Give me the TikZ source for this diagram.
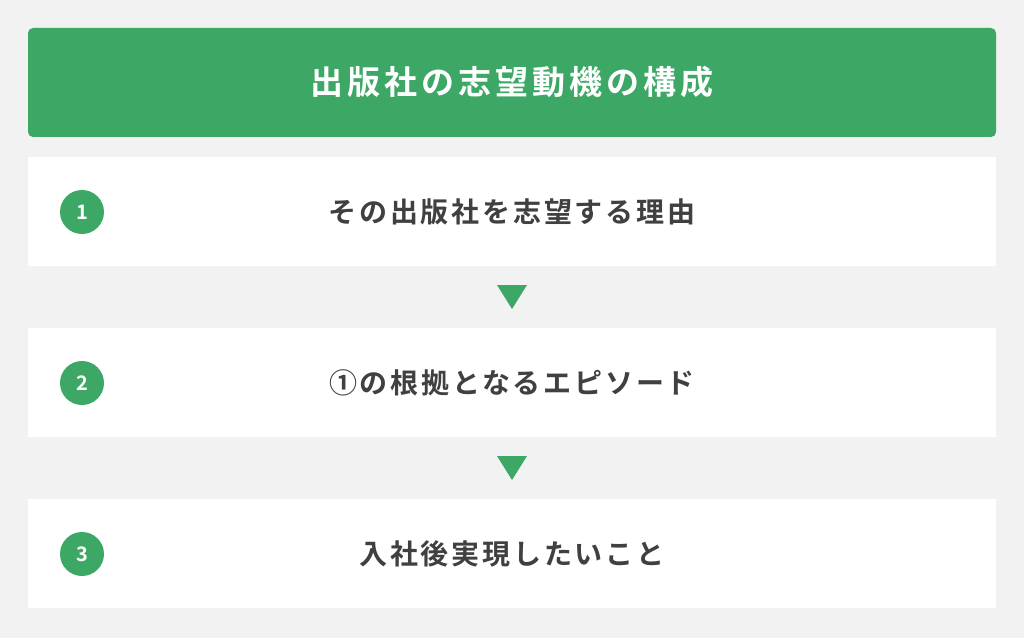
\documentclass[tikz,border=0pt]{standalone}
\usepackage{fontspec}
\newfontfamily\jpfont{Noto Sans CJK JP}[BoldFont={Noto Sans CJK JP Bold}]
\definecolor{verde}{HTML}{3DA866}
\definecolor{fondo}{HTML}{F2F2F2}
\definecolor{texto}{HTML}{404040}
\tikzset{
	caja/.style={fill=white, minimum width=968pt, minimum height=109pt, inner sep=0pt},
	numero/.style={circle, fill=verde, minimum size=44pt, inner sep=0pt, text=white, font=\jpfont\bfseries\fontsize{20pt}{20pt}\selectfont},
	rotulo/.style={text=texto, font=\jpfont\bfseries\fontsize{28pt}{28pt}\selectfont\addfontfeatures{LetterSpace=10}}
}
\begin{document}
\begin{tikzpicture}[x=1pt, y=1pt]
	% Fondo
		\fill[fondo] (0,0) rectangle (1024,638);
		\useasboundingbox (0,0) rectangle (1024,638);
	% Titulo
		\node[fill=verde, rounded corners=5pt, minimum width=968pt, minimum height=109pt, inner sep=0pt, text=white, font=\jpfont\bfseries\fontsize{33pt}{33pt}\selectfont\addfontfeatures{LetterSpace=12}] (titulo) at (512,555.5) {出版社の志望動機の構成};
	% Cajas
		\node[caja] (caja1) at (512,426.5) {};
		\node[caja] (caja2) at (512,255.5) {};
		\node[caja] (caja3) at (512,84.5) {};
	% Numeros
		\node[numero] (n1) at (82,426) {1};
		\node[numero] (n2) at (82,255) {2};
		\node[numero] (n3) at (82,84) {3};
	% Textos
		\node[rotulo] (t1) at (caja1) {その出版社を志望する理由};
		\node[rotulo] (t2) at (caja2) {①の根拠となるエピソード};
		\node[rotulo] (t3) at (caja3) {入社後実現したいこと};
	% Flechas
		\fill[verde] (497,353) -- (527,353) -- (512,329) -- cycle;
		\fill[verde] (497,182) -- (527,182) -- (512,158) -- cycle;
\end{tikzpicture}
\end{document}
